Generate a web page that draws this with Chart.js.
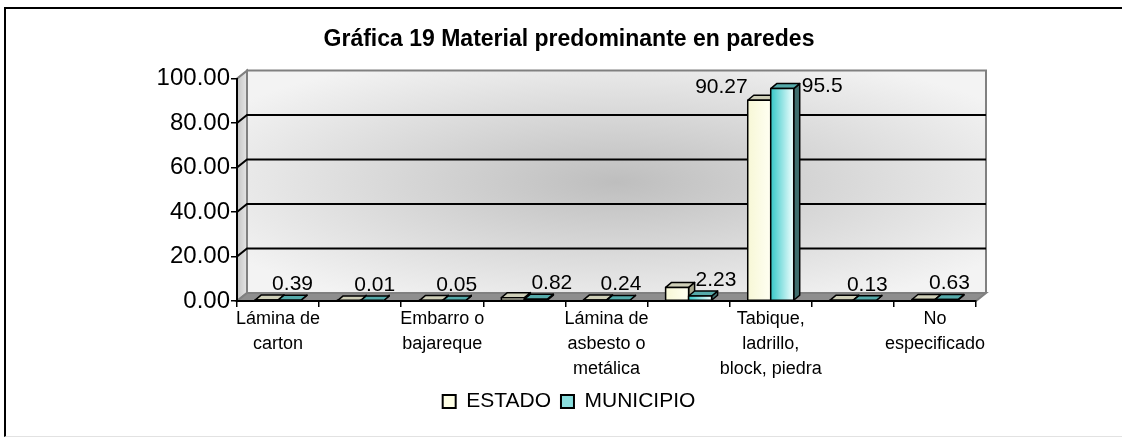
<!DOCTYPE html>
<html>
<head>
<meta charset="utf-8">
<script src="https://cdn.jsdelivr.net/npm/chart.js@4.4.0/dist/chart.umd.min.js"></script>
<style>
  html, body { margin: 0; padding: 0; background: #fff; overflow: hidden; }
  #box {
    position: absolute; left: 4px; top: 7px; width: 1132px; height: 430px;
    box-sizing: border-box; border: 2px solid #000; border-bottom: 1px solid #e2e2e2;
  }
</style>
</head>
<body>
<div id="box"><canvas id="chart"></canvas></div>
<script>
// --- Data ---
const categories = [
  ['Lámina de', 'carton'],
  ['Carrizo, bambú', 'o palma'],
  ['Embarro o', 'bajareque'],
  ['Madera'],
  ['Lámina de', 'asbesto o', 'metálica'],
  ['Adobe'],
  ['Tabique,', 'ladrillo,', 'block, piedra'],
  ['Material de', 'desecho'],
  ['No', 'especificado']
];
const estadoValues = [0.4, 0.05, 0.2, 1.5, 0.5, 6.1, 90.27, 0.3, 0.68];
const municipioValues = [0.39, 0.01, 0.05, 0.82, 0.24, 2.23, 95.5, 0.13, 0.63];
const yTicks = [0, 20, 40, 60, 80, 100];

// --- Look ---
const WALL = { x: 10, y: 8 };
const BAR = { x: 6, y: 5 };
const faces = [
  { front: ['#f7f7d6', '#fffff2'], top: '#cfcfb8', side: '#a9a98f' },
  { front: ['#36c8c8', '#f2ffff'], top: '#55aaaa', side: '#3e6d6d' }
];
const LABEL_FONT = "21px 'Liberation Sans', Arial, sans-serif";

Chart.defaults.font.family = "'Liberation Sans', Arial, sans-serif";
Chart.defaults.color = '#000';

function poly(ctx, pts, fill) {
  ctx.beginPath();
  pts.forEach((p, i) => i ? ctx.lineTo(p[0], p[1]) : ctx.moveTo(p[0], p[1]));
  ctx.closePath();
  ctx.fillStyle = fill;
  ctx.fill();
  ctx.stroke();
}

// back wall, side wall, floor and grid lines on the wall
const wallsPlugin = {
  id: 'walls',
  beforeDraw(chart) {
    const { ctx, chartArea: a, scales: { y } } = chart;
    const dx = WALL.x, dy = WALL.y;
    const bw = a.right - a.left, bh = a.bottom - a.top;
    ctx.save();
    // back wall gradient
    ctx.save();
    ctx.translate(a.left + dx + bw / 2, a.top - dy + bh / 2);
    ctx.scale(bw / bh, 1);
    const g = ctx.createRadialGradient(0, 0, 0, 0, 0, bh * 0.62);
    g.addColorStop(0, '#bebebe');
    g.addColorStop(1, '#f3f3f3');
    ctx.fillStyle = g;
    ctx.fillRect(-bh / 2, -bh / 2, bh, bh);
    ctx.restore();

    ctx.lineWidth = 2;
    ctx.strokeStyle = '#808080';
    // left wall
    const lg = ctx.createLinearGradient(a.left, 0, a.left + dx, 0);
    lg.addColorStop(0, '#c4c4c4');
    lg.addColorStop(1, '#e6e6e6');
    poly(ctx, [[a.left, a.top], [a.left + dx, a.top - dy], [a.left + dx, a.bottom - dy], [a.left, a.bottom]], lg);
    // floor
    poly(ctx, [[a.left, a.bottom], [a.right, a.bottom], [a.right + dx, a.bottom - dy], [a.left + dx, a.bottom - dy]], '#8e8e8e');
    // wall outline
    ctx.beginPath();
    ctx.moveTo(a.left + dx, a.bottom - dy);
    ctx.lineTo(a.left + dx, a.top - dy);
    ctx.lineTo(a.right + dx, a.top - dy);
    ctx.lineTo(a.right + dx, a.bottom - dy);
    ctx.stroke();

    // grid lines
    ctx.strokeStyle = '#000';
    ctx.lineWidth = 2;
    yTicks.forEach(v => {
      if (v === yTicks[0] || v === yTicks[yTicks.length - 1]) return;
      const py = y.getPixelForValue(v);
      ctx.beginPath();
      ctx.moveTo(a.left, py);
      ctx.lineTo(a.left + dx, py - dy);
      ctx.lineTo(a.right + dx, py - dy);
      ctx.stroke();
    });
    ctx.restore();
  }
};

function drawBox(ctx, bar, f) {
  const { x, y, base, width } = bar.getProps(['x', 'y', 'base', 'width'], true);
  const l = x - width / 2, r = x + width / 2;
  const dx = BAR.x, dy = BAR.y;
  poly(ctx, [[r, y], [r + dx, y - dy], [r + dx, base - dy], [r, base]], f.side);
  poly(ctx, [[l, y], [l + dx, y - dy], [r + dx, y - dy], [r, y]], f.top);
  const fg = ctx.createLinearGradient(l, 0, r, 0);
  fg.addColorStop(0, f.front[0]);
  fg.addColorStop(1, f.front[1]);
  poly(ctx, [[l, y], [r, y], [r, base], [l, base]], fg);
}

// 3D boxes + value labels
const boxesPlugin = {
  id: 'boxes',
  afterDatasetsDraw(chart) {
    const ctx = chart.ctx;
    const est = chart.getDatasetMeta(0).data;
    const mun = chart.getDatasetMeta(1).data;
    ctx.save();
    ctx.lineWidth = 1.5;
    ctx.strokeStyle = '#000';
    ctx.lineJoin = 'round';
    for (let i = 0; i < categories.length; i++) {
      drawBox(ctx, est[i], faces[0]);
      drawBox(ctx, mun[i], faces[1]);
    }
    ctx.font = LABEL_FONT;
    ctx.fillStyle = '#000';
    ctx.textBaseline = 'middle';
    ctx.textAlign = 'left';
    for (let i = 0; i < categories.length; i++) {
      const m = mun[i], e = est[i];
      const txt = String(municipioValues[i]);
      const w = ctx.measureText(txt).width;
      if (municipioValues[i] > 50) {
        ctx.fillText(txt, m.x + m.width / 2 + BAR.x + 2, m.y - 2);
      } else {
        const cy = m.y - 16;
        let left = m.x + 3 - w / 2;
        // keep clear of a taller neighbour box
        if (e.y - BAR.y < cy + 10) left = Math.max(left, e.x + e.width / 2 + BAR.x + 1);
        ctx.fillText(txt, left, cy);
      }
      if (estadoValues[i] > 50) {
        const et = String(estadoValues[i]);
        ctx.fillText(et, e.x - e.width / 2 - ctx.measureText(et).width, e.y - 13);
      }
    }
    ctx.restore();
  }
};

new Chart(document.getElementById('chart'), {
  type: 'bar',
  data: {
    labels: categories,
    datasets: [
      { label: 'ESTADO', data: estadoValues, backgroundColor: '#ffffe6', borderColor: '#000', borderWidth: 2,
        categoryPercentage: 0.56, barPercentage: 1 },
      { label: 'MUNICIPIO', data: municipioValues, backgroundColor: '#8adede', borderColor: '#000', borderWidth: 2,
        categoryPercentage: 0.56, barPercentage: 1 }
    ]
  },
  options: {
    responsive: true,
    maintainAspectRatio: false,
    animation: false,
    layout: { padding: { top: 0, right: 2, bottom: 14, left: 0 } },
    plugins: {
      title: {
        display: true,
        text: 'Gráfica 19 Material predominante en paredes',
        font: { size: 23, weight: 'bold' },
        padding: { top: 17, bottom: 25 }
      },
      legend: {
        position: 'bottom',
        labels: { font: { size: 21 }, boxWidth: 13, boxHeight: 13, padding: 10 }
      },
      tooltip: { enabled: false }
    },
    scales: {
      y: {
        min: yTicks[0],
        max: yTicks[yTicks.length - 1],
        afterFit(s) { s.width = 231; },
        ticks: { stepSize: 20, padding: 1, font: { size: 24 }, callback: v => v.toFixed(2) },
        grid: { drawOnChartArea: false, color: '#000', tickLength: 6, lineWidth: 1.5 },
        border: { color: '#000', width: 2 }
      },
      // empty space on the right of the plot
      yRight: {
        position: 'right',
        afterFit(s) { s.width = 156; },
        ticks: { display: false },
        grid: { display: false },
        border: { display: false }
      },
      x: {
        afterFit(s) { s.height = 80; },
        ticks: {
          autoSkip: false, maxRotation: 0, padding: 0,
          font: { size: 18, lineHeight: 1.38 },
          callback: (v, i) => i % 2 === 0 ? categories[i] : ''
        },
        grid: { drawOnChartArea: false, color: '#000', tickLength: 6, lineWidth: 1.5 },
        border: { color: '#000', width: 2 }
      }
    }
  },
  plugins: [wallsPlugin, boxesPlugin]
});
</script>
</body>
</html>
